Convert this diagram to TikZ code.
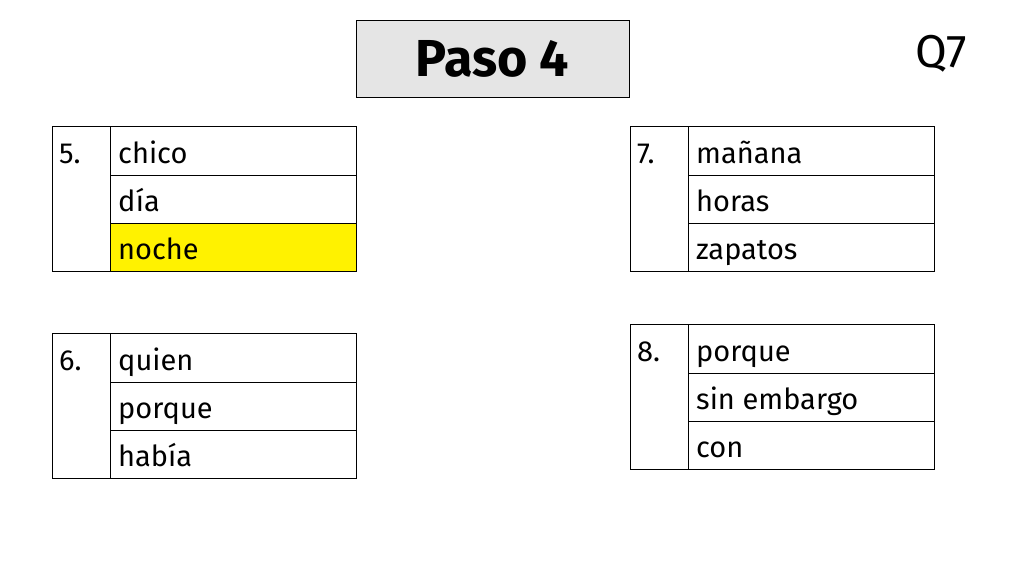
\documentclass[tikz,border=0pt]{standalone}
\usepackage{fontspec}
\setmainfont{Fira Sans}
\begin{document}
\begin{tikzpicture}[x=1pt,y=-1pt,
  word/.style={anchor=base west,inner sep=0pt,font=\fontsize{29}{32}\selectfont},
  grid/.style={draw=black,line width=1pt}]
\useasboundingbox (0,0) rectangle (1024,576);
% title
\node[draw=black,line width=1pt,fill=black!10,minimum width=273pt,minimum height=77pt,
  font=\fontsize{52}{56}\selectfont\bfseries] (title) at (492.5,58.5) {Paso 4};
\node[anchor=base,inner sep=0pt,font=\fontsize{46}{50}\selectfont] (q7) at (941,67) {Q7};
\foreach \n/\x/\y/\a/\b/\c [count=\i] in {5./52/126/chico/día/noche, 6./52/333/quien/porque/había, 7./630/126/mañana/horas/zapatos, 8./630/324/porque/sin embargo/con}{
  \ifnum\i=1 \fill[yellow] (\x+58,\y+97) rectangle (\x+304,\y+145); \fi
  \draw[grid] (\x,\y) rectangle (\x+304,\y+145);
  \draw[grid] (\x+58,\y) -- (\x+58,\y+145);
  \draw[grid] (\x+58,\y+49) -- (\x+304,\y+49);
  \draw[grid] (\x+58,\y+97) -- (\x+304,\y+97);
  \node[word] (n\i) at (\x+7,\y+37) {\n};
  \node[word] (a\i) at (\x+66,\y+37) {\a};
  \node[word] (b\i) at (\x+66,\y+85) {\b};
  \node[word] (c\i) at (\x+66,\y+133) {\c};
}
\end{tikzpicture}
\end{document}
